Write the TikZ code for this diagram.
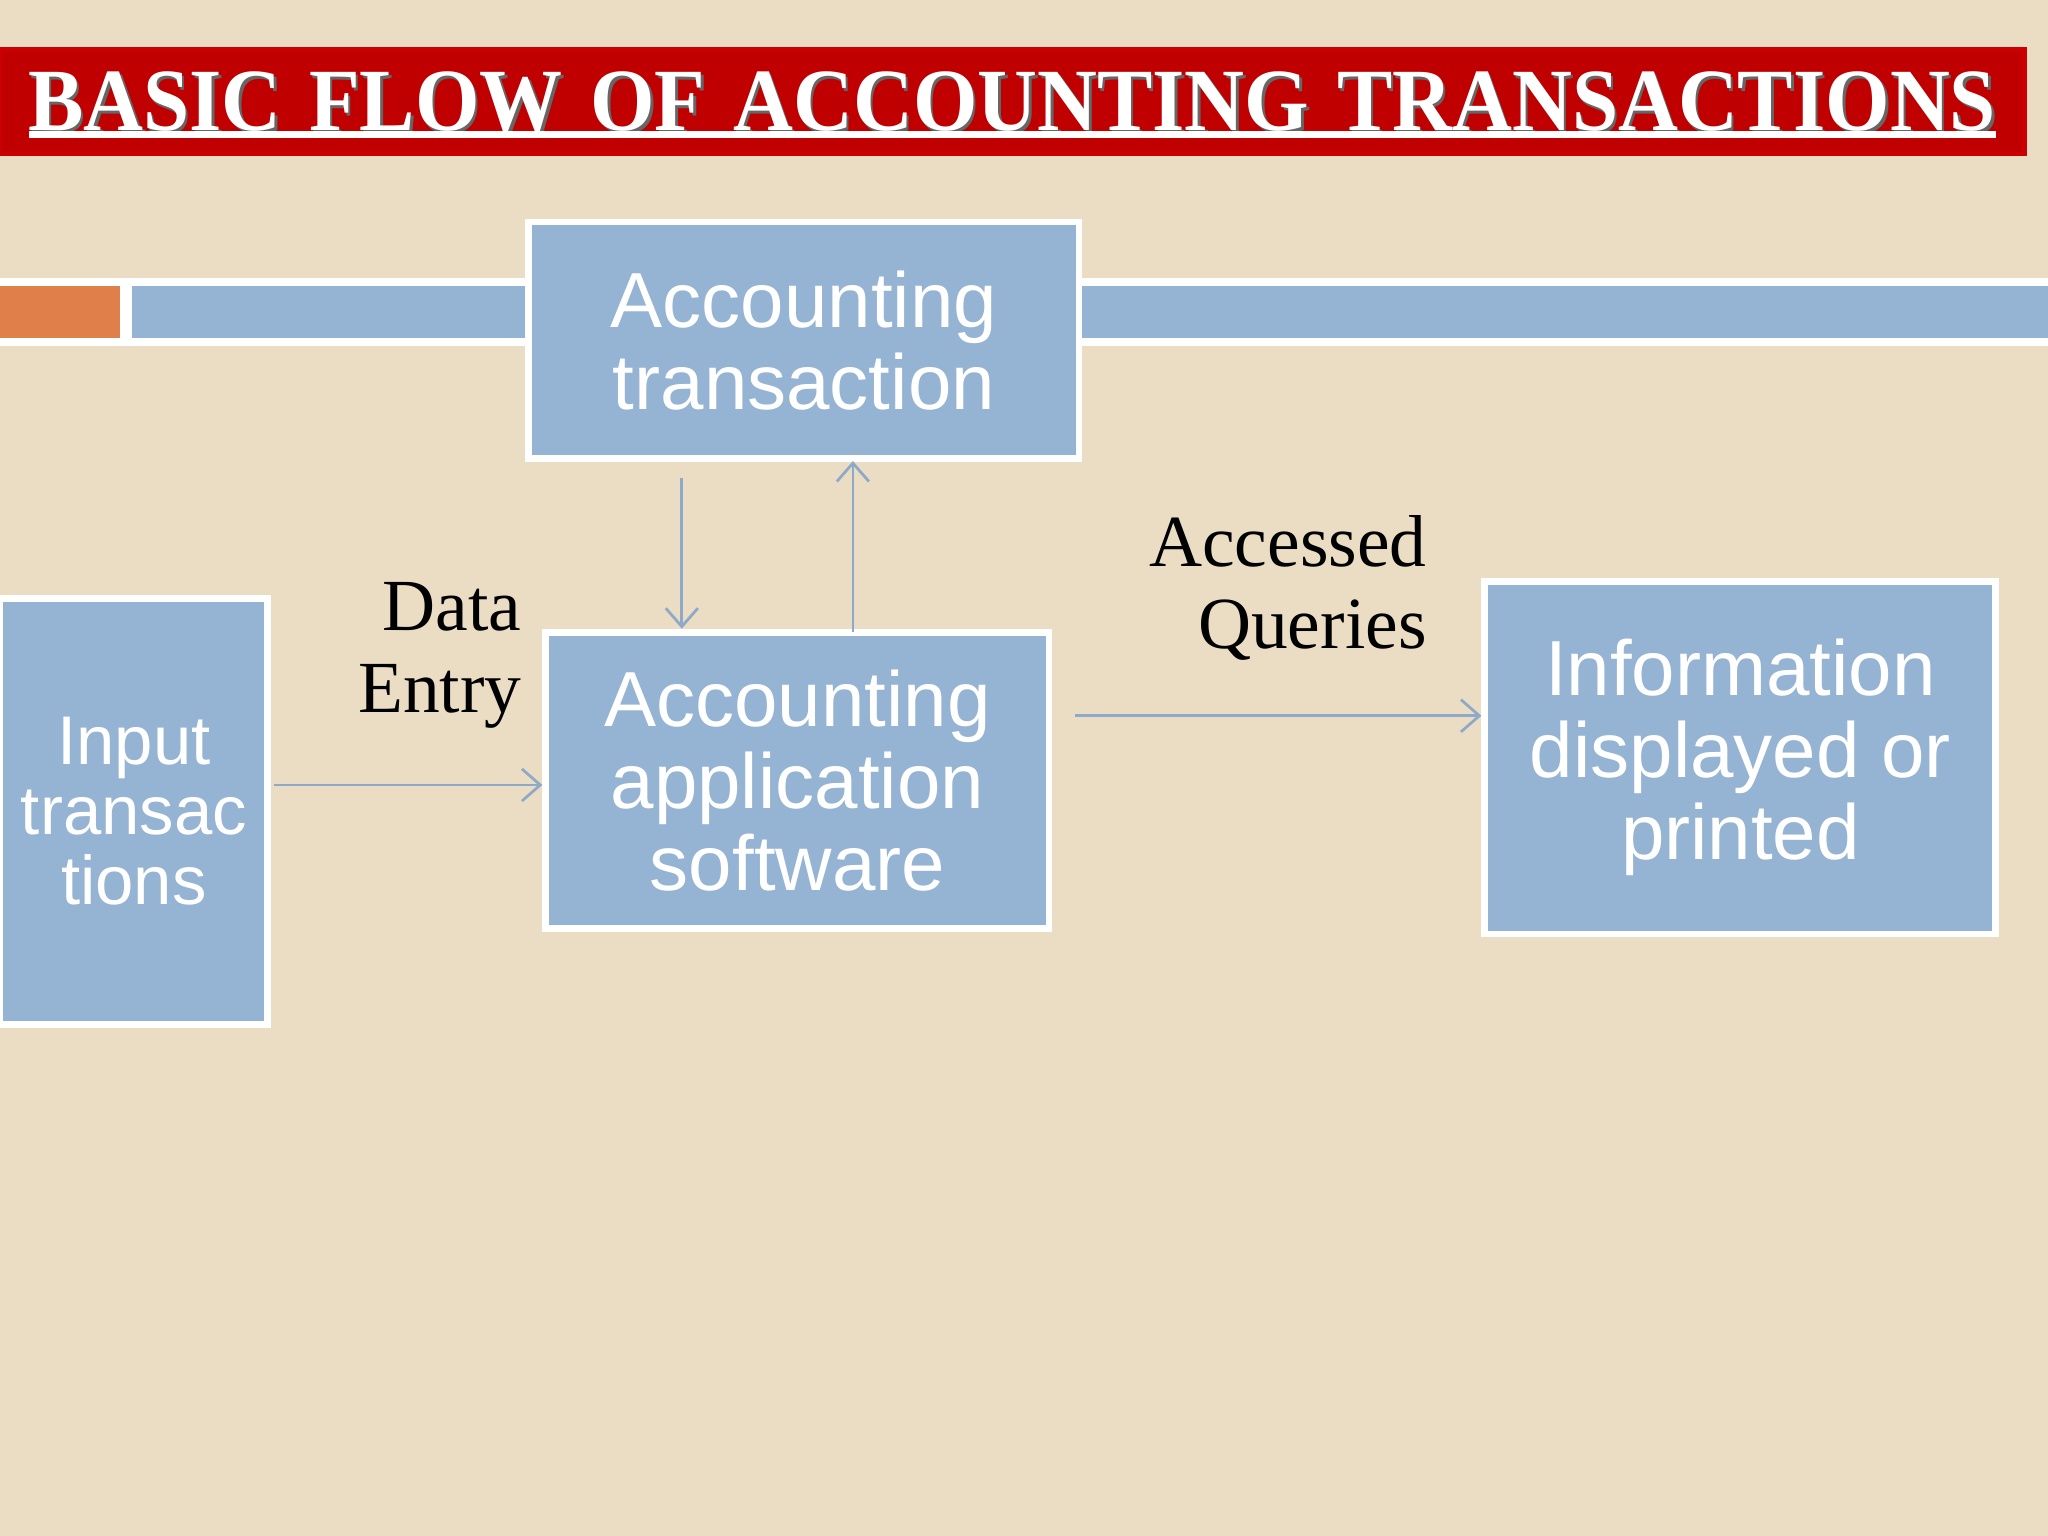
\documentclass[tikz,border=0pt]{standalone}
\usepackage{fontspec}
\setmainfont{Liberation Serif}
\setsansfont{Liberation Sans}
\usetikzlibrary{arrows.meta}
\definecolor{bg}{HTML}{EBDDC3}
\definecolor{boxblue}{HTML}{95B3D3}
\definecolor{titlered}{HTML}{C00000}
\definecolor{orng}{HTML}{E07F4A}
\tikzset{
  bluebox/.style={draw=white,line width=1.5pt,fill=boxblue,text=white,font=\sffamily\fontsize{17}{17.8}\selectfont,align=center,inner sep=0pt},
  flow/.style={draw=boxblue!95!black,line width=0.6pt,-{Straight Barb[length=4pt,width=7pt]}},
  lbl/.style={font=\fontsize{16}{17.8}\selectfont,align=right,anchor=east,inner sep=0pt}
}
\begin{document}
\begin{tikzpicture}[x=0.01cm,y=-0.01cm]
\fill[bg] (0,0) rectangle (1568,1176);
\useasboundingbox (0,0) rectangle (1568,1176);
% title
\fill[titlered] (0,38) rectangle (1550,118);
\draw[red!80!black,line width=1pt] (0,38) rectangle (1550,118);
\node[inner sep=0pt,text=black!60] (tshadow) at (777,80) {\resizebox{15.06cm}{0.45cm}{\bfseries BASIC\,\,FLOW\,\,OF\,\,ACCOUNTING\,\,TRANSACTIONS}};
\node[inner sep=0pt,text=white] (title) at (775,78) {\resizebox{15.06cm}{0.45cm}{\bfseries BASIC\,\,FLOW\,\,OF\,\,ACCOUNTING\,\,TRANSACTIONS}};
\draw[white,line width=1.5pt] (22,103) -- (1528,103);
% bars
\fill[white] (0,213) rectangle (1568,265);
\fill[orng] (0,219) rectangle (92,259);
\fill[boxblue] (101,219) rectangle (1568,259);
% boxes
\node[bluebox,minimum width=4.21cm,minimum height=1.81cm] (at) at (615.5,260.5) {Accounting\\transaction};
\node[bluebox,minimum width=3.85cm,minimum height=2.27cm] (aas) at (610.5,597.5) {Accounting\\application\\software};
\node[bluebox,minimum width=3.91cm,minimum height=2.70cm] (info) at (1332.5,580) {Information\\displayed or\\printed};
\node[bluebox,minimum width=2.05cm,minimum height=3.26cm,font=\sffamily\fontsize{15}{15.3}\selectfont] (inp) at (102.5,621) {Input\\transac\\tions};
% labels
\node[lbl] (de) at (400,502) {Data\\Entry};
\node[lbl] (aq) at (1093,450) {Accessed\\Queries};
% connectors
\coordinate (d0) at (522,366);
\draw[flow] (d0) -- (aas.north -| d0);
\coordinate (u0) at (653,484);
\coordinate (u1) at (653,353);
\draw[flow] (u0) -- (u1);
\coordinate (e0) at (210,601);
\draw[flow] (e0) -- (aas.west |- e0);
\coordinate (q0) at (823,548);
\draw[flow] (q0) -- (info.west |- q0);
\end{tikzpicture}
\end{document}
